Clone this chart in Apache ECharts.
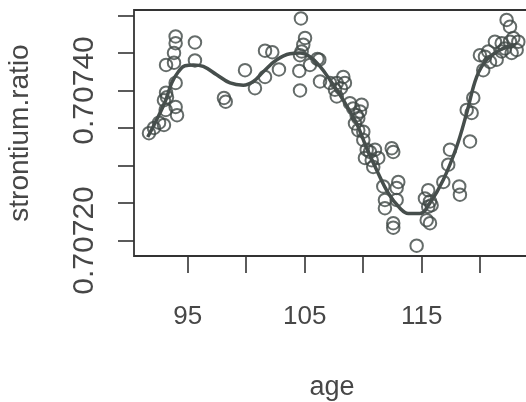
<!DOCTYPE html>
<html>
<head>
<meta charset="utf-8">
<script src="https://cdn.jsdelivr.net/npm/echarts@6/dist/echarts.min.js"></script>
<style>
  html, body { margin: 0; padding: 0; background: #fff; }
  #chart { width: 526px; height: 402px; }
</style>
</head>
<body>
<div id="chart"></div>
<script>
var age = [91.69, 92.12, 92.55, 92.97, 93.12, 92.97, 93.23, 93.15, 93.97, 94.09,
  93.97, 93.15, 93.83, 93.83, 93.97, 93.97, 95.62, 95.62, 98.10, 98.25,
  99.90, 100.75, 101.61, 101.61, 102.23, 102.80, 104.68, 105.03, 104.88, 104.74,
  104.60, 104.54, 104.60, 105.45, 106.25, 106.31, 106.09, 107.16, 107.74, 108.30,
  108.44, 107.59, 107.74, 108.10, 108.87, 109.15, 109.87, 109.73, 109.44, 109.58,
  109.30, 109.58, 110.01, 110.01, 110.30, 110.58, 111.01, 110.15, 110.73, 111.29,
  110.86, 112.44, 112.57, 111.72, 113.00, 112.86, 111.86, 112.86, 111.86, 112.57,
  112.57, 114.57, 115.56, 115.28, 115.71, 115.85, 115.56, 115.43, 115.71, 116.85,
  117.27, 117.42, 118.21, 118.27, 119.13, 118.85, 119.27, 119.41, 120.26, 119.98,
  120.41, 120.69, 120.84, 121.41, 121.26, 121.84, 122.12, 122.55, 122.83, 123.26,
  122.69, 122.26, 122.55, 121.84, 123.12];
var ratio = [0.707343, 0.707350, 0.707357, 0.707354, 0.707374, 0.707387, 0.707391, 0.707397, 0.707378, 0.707367,
  0.707410, 0.707434, 0.707437, 0.707450, 0.707463, 0.707472, 0.707464, 0.707440, 0.707390, 0.707385,
  0.707427, 0.707403, 0.707418, 0.707453, 0.707451, 0.707428, 0.707496, 0.707470, 0.707461, 0.707452,
  0.707447, 0.707426, 0.707400, 0.707434, 0.707441, 0.707412, 0.707442, 0.707410, 0.707410, 0.707418,
  0.707410, 0.707401, 0.707392, 0.707403, 0.707383, 0.707376, 0.707381, 0.707372, 0.707367, 0.707363,
  0.707356, 0.707347, 0.707345, 0.707334, 0.707321, 0.707318, 0.707321, 0.707310, 0.707307, 0.707310,
  0.707298, 0.707323, 0.707318, 0.707272, 0.707278, 0.707270, 0.707254, 0.707254, 0.707243, 0.707223,
  0.707217, 0.707193, 0.707267, 0.707256, 0.707252, 0.707247, 0.707245, 0.707227, 0.707223, 0.707278,
  0.707301, 0.707321, 0.707272, 0.707261, 0.707332, 0.707374, 0.707370, 0.707390, 0.707427, 0.707447,
  0.707445, 0.707452, 0.707438, 0.707441, 0.707465, 0.707463, 0.707456, 0.707465, 0.707470, 0.707465,
  0.707450, 0.707494, 0.707485, 0.707452, 0.707454];

// smooth fit
var fitAge = [91.58, 92.35, 93.12, 93.63, 94.20, 94.77, 95.48, 96.33, 97.48, 98.62,
  99.75, 100.61, 101.46, 102.61, 103.74, 104.60, 105.45, 106.31, 107.16, 108.30,
  109.44, 110.30, 111.15, 112.15, 113.15, 113.85, 114.85, 115.71, 116.85, 117.99,
  118.85, 119.70, 120.56, 121.69, 122.83];
var fitRatio = [0.707338, 0.707361, 0.707387, 0.707410, 0.707425, 0.707433, 0.707434, 0.707432, 0.707421, 0.707410,
  0.707407, 0.707412, 0.707425, 0.707441, 0.707449, 0.707450, 0.707445, 0.707432, 0.707414, 0.707387,
  0.707356, 0.707323, 0.707294, 0.707263, 0.707243, 0.707236, 0.707236, 0.707250, 0.707281, 0.707325,
  0.707370, 0.707418, 0.707441, 0.707454, 0.707461];

var xTicks = [95, 100, 105, 110, 115, 120];
var xLabels = [95, 105, 115];
var yTicks = [0.70720, 0.70725, 0.70730, 0.70735, 0.70740, 0.70745, 0.70750];
var yLabels = [0.70720, 0.70740];

var ink = '#333';
var textCol = '#474747';
var markCol = '#3f4745';

var points = age.map(function (a, i) { return [a, ratio[i]] });
var fit = fitAge.map(function (a, i) { return [a, fitRatio[i]] });

var myChart = echarts.init(document.getElementById('chart'))
myChart.setOption({
  animation: false,
  backgroundColor: '#fff',
  textStyle: { fontFamily: 'Liberation Sans, Arial, sans-serif' },
  grid: {
    left: 134,
    top: 10,
    right: -4,
    bottom: 146,
    outerBoundsMode: 'none',
    show: true,
    borderColor: ink,
    borderWidth: 1.8,
    backgroundColor: 'transparent'
  },
  xAxis: {
    type: 'value',
    min: 90.41,
    max: 124.26,
    name: 'age',
    nameLocation: 'middle',
    nameGap: 118,
    nameTextStyle: { fontSize: 27, color: textCol },
    axisLine: { show: false },
    splitLine: { show: false },
    axisTick: {
      show: true,
      length: 17,
      customValues: xTicks,
      lineStyle: { color: ink, width: 1.6 }
    },
    axisLabel: {
      customValues: xLabels,
      margin: 48,
      fontSize: 26,
      color: textCol
    }
  },
  yAxis: {
    type: 'value',
    min: 0.7071793,
    max: 0.7075073,
    name: 'strontium.ratio',
    nameLocation: 'middle',
    nameRotate: 90,
    nameGap: 100,
    nameTextStyle: { fontSize: 28, color: textCol },
    axisLine: { show: false },
    splitLine: { show: false },
    axisTick: {
      show: true,
      length: 16,
      customValues: yTicks,
      lineStyle: { color: ink, width: 1.6 }
    },
    axisLabel: {
      customValues: yLabels,
      rotate: 90,
      margin: 34,
      fontSize: 30,
      color: textCol,
      formatter: function (v) { return v.toFixed(5) }
    }
  },
  series: [
    {
      type: 'scatter',
      data: points,
      symbol: 'circle',
      symbolSize: 12.5,
      itemStyle: {
        color: 'rgba(0,0,0,0)',
        borderColor: markCol,
        borderWidth: 2
      },
      z: 2
    },
    {
      type: 'line',
      data: fit,
      smooth: 0.4,
      symbol: 'none',
      lineStyle: { color: '#464e4c', width: 3.5 },
      z: 3
    }
  ]
})
</script>
</body>
</html>
